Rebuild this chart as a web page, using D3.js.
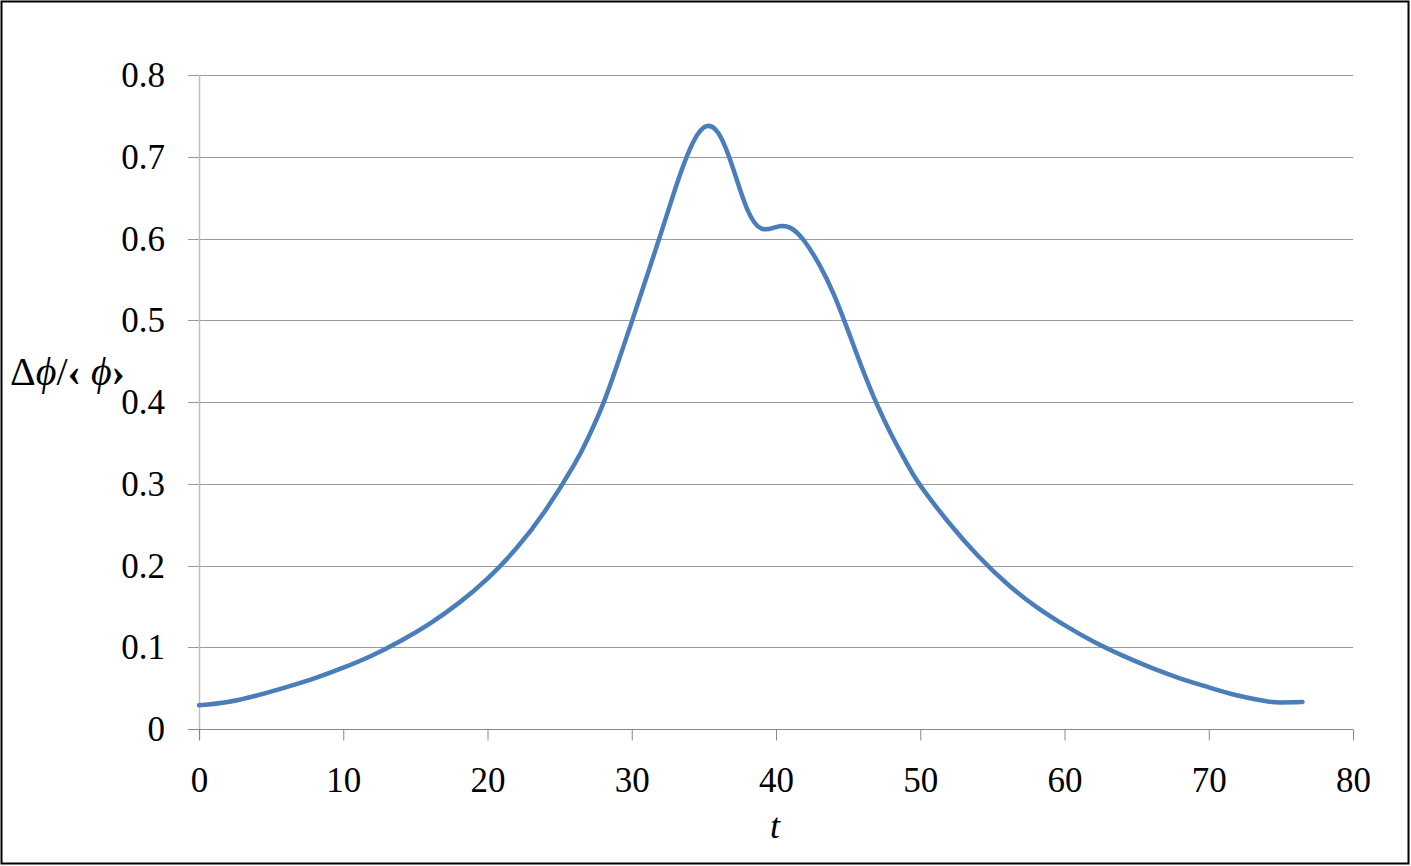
<!DOCTYPE html>
<html>
<head>
<meta charset="utf-8">
<script src="https://cdn.jsdelivr.net/npm/d3@7"></script>
<style>
  body { margin: 0; background: #fff; }
  text { font-family: "Liberation Serif", "Times New Roman", serif; fill: #000; }
</style>
</head>
<body>
<div id="chart"></div>
<script>
var tValues = [0, 2, 4, 6, 8, 10, 12, 14, 16, 18, 20, 22, 24, 26, 27, 28, 29, 30, 32, 33, 34, 35, 36, 37, 38, 39, 40, 41, 42, 43, 44, 45, 46, 47, 48, 49, 50, 52, 54, 56, 58, 60, 62, 64, 66, 68, 70, 72, 74, 75, 76.5];
var ratioValues = [0.029, 0.033, 0.041, 0.051, 0.062, 0.075, 0.090, 0.108, 0.129, 0.154, 0.184, 0.221, 0.267, 0.323, 0.357, 0.397, 0.446, 0.498, 0.605, 0.660, 0.708, 0.736, 0.729, 0.687, 0.636, 0.612, 0.614, 0.613, 0.596, 0.568, 0.532, 0.487, 0.440, 0.397, 0.360, 0.327, 0.298, 0.252, 0.212, 0.178, 0.150, 0.127, 0.107, 0.090, 0.075, 0.062, 0.051, 0.041, 0.034, 0.0325, 0.033];
var xTicks = [0, 10, 20, 30, 40, 50, 60, 70, 80];
var yTicks = [0, 0.1, 0.2, 0.3, 0.4, 0.5, 0.6, 0.7, 0.8];

var width = 1411,
  height = 866;

var svg = d3.select("#chart")
  .append("svg")
  .attr("width", width)
  .attr("height", height)

// outer frame
svg.append("rect")
  .attr("x", 1.5).attr("y", 1.5)
  .attr("width", width - 4).attr("height", height - 4)
  .attr("fill", "none")
  .attr("stroke", "#000")
  .attr("stroke-width", 2)

var x = d3.scaleLinear().domain([0, 80]).range([199, 1353])
var y = d3.scaleLinear().domain([0, 0.8]).range([729, 75])

// gridlines
svg.selectAll(".grid")
  .data(yTicks.filter(function(d) { return d > 0 }))
  .enter().append("line")
  .attr("class", "grid")
  .attr("x1", x(0) - 11).attr("x2", x(80))
  .attr("y1", function(d) { return Math.round(y(d)) + 0.5 })
  .attr("y2", function(d) { return Math.round(y(d)) + 0.5 })
  .attr("stroke", "#9a9a9a")
  .attr("stroke-width", 1)

// y axis line
svg.append("line")
  .attr("x1", x(0) + 0.5).attr("x2", x(0) + 0.5)
  .attr("y1", y(0.8)).attr("y2", y(0) + 11)
  .attr("stroke", "#bfbfbf")
  .attr("stroke-width", 1.5)

// x axis
var xAxis = svg.append("g")
  .attr("transform", "translate(0," + (Math.round(y(0)) + 0.5) + ")")
  .call(d3.axisBottom(x).tickValues(xTicks).tickSize(11).tickPadding(27).tickFormat(d3.format("d")))
xAxis.select(".domain").attr("stroke", "#888").attr("d", "M" + (x(0) - 11) + ",0H" + x(80))
xAxis.selectAll(".tick line").attr("stroke", "#888")
xAxis.selectAll(".tick text").style("font-size", "35px")
  .style("font-family", '"Liberation Serif", serif').attr("fill", "#000")

// y tick labels
svg.selectAll(".ylab")
  .data(yTicks)
  .enter().append("text")
  .attr("class", "ylab")
  .attr("x", x(0) - 34)
  .attr("y", function(d) { return y(d) + 12 })
  .attr("text-anchor", "end")
  .style("font-size", "35px")
  .text(function(d) { return d === 0 ? "0" : d3.format(".1f")(d) })

// axis titles
var yt = svg.append("text")
  .attr("x", 10).attr("y", 385)
  .style("font-size", "40px")
yt.append("tspan").text("Δ")
yt.append("tspan").style("font-style", "italic").text("ϕ")
yt.append("tspan").text("/")
yt.append("tspan").style("font-weight", "bold").text("‹")
yt.append("tspan").style("font-style", "italic").text(" ϕ")
yt.append("tspan").style("font-weight", "bold").text("›")

svg.append("text")
  .attr("x", x(40) - 6).attr("y", 838)
  .style("font-size", "36px")
  .style("font-style", "italic")
  .text("t")

// curve
var data = tValues.map(function(t, i) { return { t: t, v: ratioValues[i] } })

var line = d3.line()
  .x(function(d) { return x(d.t) })
  .y(function(d) { return y(d.v) })
  .curve(d3.curveNatural)

svg.append("path")
  .datum(data)
  .attr("d", line)
  .attr("fill", "none")
  .attr("stroke", "#4a7ebb")
  .attr("stroke-width", 4.5)
  .attr("stroke-linecap", "round")
</script>
</body>
</html>
